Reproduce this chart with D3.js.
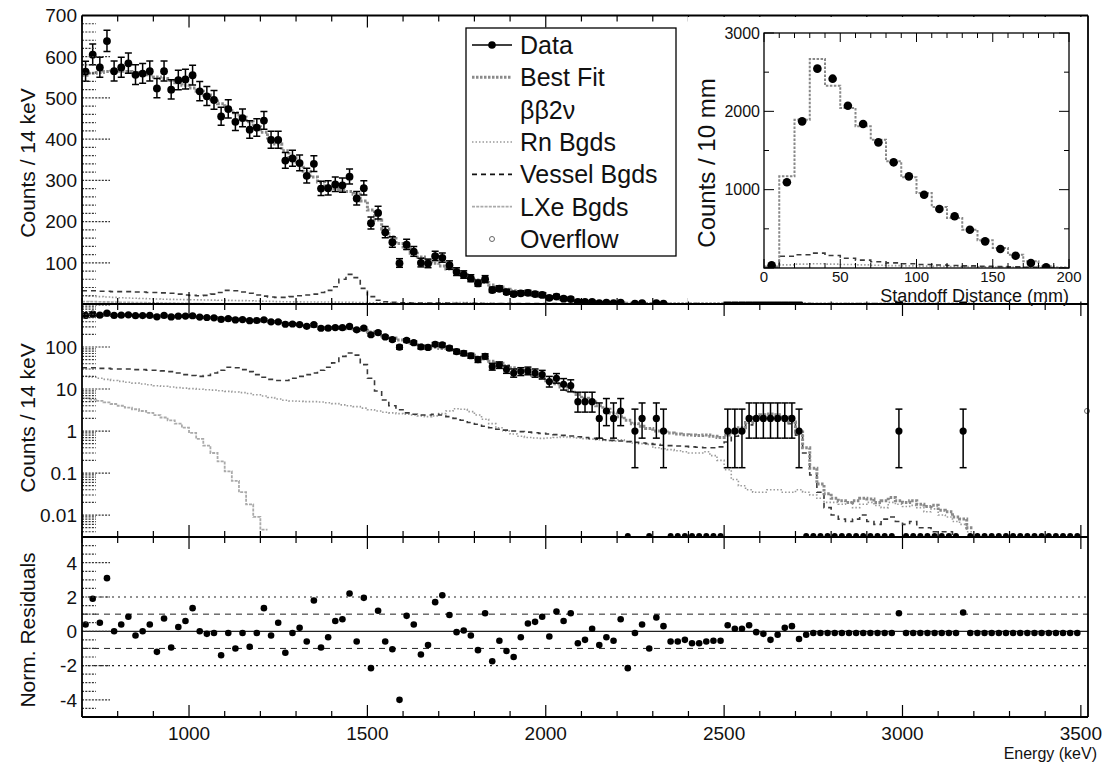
<!DOCTYPE html>
<html>
<head>
<meta charset="utf-8">
<script src="https://d3js.org/d3.v7.min.js"></script>
<style>
  html,body{margin:0;padding:0;background:#fff;}
  text{font-family:"Liberation Sans",Arial,Helvetica,sans-serif;fill:#111;}
</style>
</head>
<body>
<svg id="chart" width="1102" height="763"></svg>
<script>
// ---------------- data ----------------
const binStart = 700, binWidth = 20;          // energy bins (keV)
const fitCounts = [
 555,560,562,564,565,565,564,562,559,556,
 551,547,542,537,531,524,516,507,497,486,
 475,464,453,442,430,417,403,388,372,355,
 338,322,308,296,287,280,276,273,266,250,
 228,204,182,163,147,134,123,114,106,99,
 92,85,78,71,64,58,52,46,41,36,
 32,28,24.5,21.3,18.4,15.8,13.4,11.2,9.2,7.4,
 6.0,4.9,4.0,3.3,2.7,2.2,1.8,1.5,1.3,1.15,
 1.0,0.95,0.9,0.85,0.82,0.8,0.78,0.8,0.75,0.7,
 0.8,0.95,1.2,1.6,2.1,2.45,2.55,2.45,2.15,1.65,
 0.95,0.4,0.13,0.055,0.032,0.025,0.022,0.02,0.022,0.025,
 0.024,0.02,0.022,0.026,0.022,0.02,0.022,0.018,0.016,0.017,
 0.013,0.012,0.009,0.008,0.005
];
const dataCounts = [
 564,605,574,638,565,574,584,556,559,565,
 523,565,520,543,545,555,516,504,495,455,
 473,442,451,423,428,445,398,398,348,353,
 342,311,340,280,281,290,288,309,256,281,
 196,221,174,150,99,144,127,100,98,116,
 112,94,78,71,62,50,60,34,37,29,
 24,26,27,24,22,15,18,13,12,5,
 5,5,2,3,2,3,0,1,2,0,
 2,1,0,0,0,0,0,0,0,0,
 1,1,1,2,2,2,2,2,2,2,
 1,0,0,0,0,0,0,0,0,0,
 0,0,0,0,1,0,0,0,0,0,
 0,0,0,1,0,0,0,0,0,0,
 0,0,0,0,0,0,0,0,0,0
];
const residuals = [
 0.4,1.9,0.5,3.1,0.0,0.4,0.85,-0.25,0.0,0.4,
 -1.2,0.75,-0.95,0.25,0.6,1.35,0.0,-0.15,-0.1,-1.4,
 -0.1,-1.0,-0.1,-0.9,-0.1,1.35,-0.25,0.5,-1.25,-0.1,
 0.2,-0.6,1.8,-0.95,-0.35,0.6,0.7,2.2,-0.6,1.95,
 -2.15,1.2,-0.6,-1.05,-4.0,0.9,0.4,-1.35,-0.8,1.7,
 2.1,0.95,-0.05,0.05,-0.25,-1.1,1.05,-1.75,-0.55,-1.15,
 -1.5,-0.35,0.45,0.55,0.85,-0.3,1.15,0.6,1.05,-0.7,
 -0.5,0.15,-0.8,-0.35,-0.55,0.7,-2.15,-0.1,0.4,-1.0,
 0.8,0.3,-0.6,-0.6,-0.5,-0.7,-0.7,-0.6,-0.55,-0.55,
 0.35,0.15,0.15,0.35,-0.05,-0.15,-0.5,-0.2,0.2,0.3,
 -0.45,-0.2,-0.1,-0.1,-0.1,-0.1,-0.1,-0.1,-0.1,-0.1,
 -0.1,-0.1,-0.1,-0.1,1.05,-0.1,-0.1,-0.1,-0.1,-0.1,
 -0.1,-0.1,-0.1,1.1,-0.1,-0.1,-0.1,-0.1,-0.1,-0.1,
 -0.1,-0.1,-0.1,-0.1,-0.1,-0.1,-0.1,-0.1,-0.1,-0.1
];
const vesselBg = [
 32,32,31,31,30,30,30,29,29,28,
 28,27,26,24,22,21,20,21,24,28,
 33,32,29,26,22,19,17,16,16,18,
 20,22,24,28,33,42,60,72,64,38,
 18,9,5.5,4,3.2,2.7,2.5,2.4,2.4,2.5,
 2.4,2.2,2.0,1.8,1.6,1.45,1.3,1.2,1.1,1.05,
 1.0,0.97,0.94,0.91,0.88,0.85,0.82,0.79,0.76,0.73,
 0.7,0.67,0.64,0.62,0.6,0.58,0.56,0.54,0.52,0.5,
 0.48,0.46,0.45,0.44,0.43,0.42,0.41,0.4,0.4,0.42,
 0.55,0.75,1.0,1.4,1.9,2.3,2.4,2.3,2.0,1.5,
 0.8,0.3,0.09,0.035,0.015,0.01,0.008,0.007,0.008,0.01,
 0.007,0.006,0.008,0.009,0.007,0.006,0.007,0.005,0.005,0.004,
 0.004,0.004,0.003
];
const rnBg = [
 20,19,18,17,16,15.2,14.5,13.8,13.2,12.6,
 12,11.6,11.2,10.8,10.5,10.2,9.9,9.6,9.4,9.1,
 8.8,8.5,8.2,7.8,7.3,6.8,6.3,5.8,5.4,5.2,
 5.1,5.0,5.0,4.9,4.7,4.5,4.2,4.0,3.8,3.5,
 3.2,3.0,2.8,2.7,2.6,2.5,2.4,2.3,2.2,2.3,
 2.6,3.0,3.4,3.3,2.9,2.4,1.9,1.5,1.2,1.0,
 0.85,0.75,0.7,0.68,0.67,0.68,0.7,0.72,0.7,0.68,
 0.66,0.64,0.62,0.6,0.58,0.62,0.56,0.52,0.5,0.48,
 0.4,0.38,0.36,0.34,0.32,0.3,0.3,0.32,0.26,0.2,
 0.12,0.07,0.05,0.04,0.035,0.035,0.04,0.04,0.035,0.035,
 0.04,0.035,0.03,0.025,0.02,0.02,0.018,0.02,0.015,0.018,
 0.02,0.017,0.015,0.02,0.018,0.016,0.017,0.015,0.012,0.014,
 0.01,0.009,0.007,0.006,0.004
];
const lxeBg = [
 6.0,5.6,5.2,4.8,4.4,4.0,3.6,3.3,3.0,2.7,
 2.4,2.1,1.8,1.5,1.2,0.9,0.65,0.45,0.3,0.19,
 0.11,0.065,0.035,0.018,0.009,0.0045
];
const overflowEnergy = 3520, overflowCounts = 3;

// standoff-distance inset (10 mm bins)
const standoffBinWidth = 10;
const standoffFit    = [20,1170,1893,2668,2327,2042,1808,1638,1362,1157,957,779,638,489,353,255,170,85,21,5];
const standoffData   = [34,1094,1872,2545,2417,2072,1838,1604,1349,1170,936,753,660,489,340,243,157,64,8];
const standoffVessel = [10,150,170,190,160,125,100,80,65,55,45,38,32,27,22,18,14,10,6,3];
const standoffOther  = [8,40,50,55,50,45,40,35,30,27,24,21,19,17,15,13,11,9,6,3];

// ticks / labels
const linTickLabels = [100,200,300,400,500,600,700];
const logTickLabels = [0.01,0.1,1,10,100];
const resTickLabels = [-4,-2,0,2,4];
const energyTickLabels = [1000,1500,2000,2500,3000,3500];
const standoffXTicks = [0,50,100,150,200];
const standoffYTicks = [1000,2000,3000];
const legendLabels = ["Data","Best Fit","ββ2ν","Rn Bgds","Vessel Bgds","LXe Bgds","Overflow"];

// ---------------- layout ----------------
const svg = d3.select("#chart");
const L = 82, R = 1088;
const TOP0 = 15.5, TOP1 = 304, MID1 = 537, RES1 = 717;
const x = d3.scaleLinear().domain([700, 3520]).range([L, R]);
const yLin = d3.scaleLinear().domain([0, 700]).range([TOP1, TOP0]);
const yLog = d3.scaleLog().domain([0.003, 1057]).range([MID1, TOP1]);
const yRes = d3.scaleLinear().domain([-5, 5.5]).range([RES1, MID1]);
const edges = d3.range(141).map(i => binStart + i * binWidth);
const centers = dataCounts.map((d, i) => binStart + (i + 0.5) * binWidth);

const defs = svg.append("defs");
function addClip(id, y0, y1) {
  defs.append("clipPath").attr("id", id).append("rect")
    .attr("x", L).attr("y", y0).attr("width", R - L).attr("height", y1 - y0);
}
addClip("cTop", TOP0, TOP1); addClip("cMid", TOP1, MID1); addClip("cRes", MID1, RES1);

const styles = {
  fit:    {stroke: "#8a8a8a", width: 3,   dash: "2.5,1.5"},
  vessel: {stroke: "#3a3a3a", width: 1.6, dash: "5,4"},
  rn:     {stroke: "#9a9a9a", width: 1.6, dash: "1.5,2"},
  lxe:    {stroke: "#aaaaaa", width: 1.8, dash: "3,1.2"}
};
function stepPts(vals, edgeArr) {
  const p = [];
  vals.forEach((v, i) => { p.push([edgeArr[i], v]); p.push([edgeArr[i + 1], v]); });
  return p;
}
function drawStep(g, vals, xs, ys, st, minV, edgeArr) {
  const line = d3.line()
    .defined(d => minV === undefined || d[1] >= minV)
    .x(d => xs(d[0])).y(d => ys(d[1]));
  g.append("path").attr("d", line(stepPts(vals, edgeArr || edges)))
    .attr("fill", "none").attr("stroke", st.stroke)
    .attr("stroke-width", st.width).attr("stroke-dasharray", st.dash);
}
function errLo(n) { return n - Math.sqrt(n - 0.25); }
function errHi(n) { return n + 1 + Math.sqrt(n + 0.75); }

// ---------------- top (linear) panel ----------------
const gTop = svg.append("g").attr("clip-path", "url(#cTop)");
drawStep(gTop, lxeBg, x, yLin, styles.lxe);
drawStep(gTop, rnBg, x, yLin, styles.rn);
drawStep(gTop, vesselBg, x, yLin, styles.vessel);
drawStep(gTop, fitCounts, x, yLin, styles.fit);
dataCounts.forEach((n, i) => {
  if (n <= 0) return;
  const cx = x(centers[i]);
  const y1 = yLin(errLo(n)), y2 = yLin(errHi(n));
  gTop.append("line").attr("x1", cx).attr("x2", cx).attr("y1", y1).attr("y2", y2).attr("stroke", "#000").attr("stroke-width", 1.5);
  [y1, y2].forEach(yy => gTop.append("line").attr("x1", cx - 3.5).attr("x2", cx + 3.5).attr("y1", yy).attr("y2", yy).attr("stroke", "#000").attr("stroke-width", 1.5));
  gTop.append("circle").attr("cx", cx).attr("cy", yLin(n)).attr("r", 3.9).attr("fill", "#000");
});

// ---------------- middle (log) panel ----------------
const gMid = svg.append("g").attr("clip-path", "url(#cMid)");
const minLog = yLog.domain()[0];
drawStep(gMid, lxeBg, x, yLog, styles.lxe, minLog);
drawStep(gMid, rnBg, x, yLog, styles.rn, minLog);
drawStep(gMid, vesselBg, x, yLog, styles.vessel, minLog);
drawStep(gMid, fitCounts, x, yLog, styles.fit, minLog);
dataCounts.forEach((n, i) => {
  const cx = x(centers[i]);
  if (n <= 0) {
    gMid.append("circle").attr("cx", cx).attr("cy", MID1 - 1).attr("r", 3).attr("fill", "#000");
    return;
  }
  const y1 = yLog(errLo(n)), y2 = yLog(errHi(n));
  gMid.append("line").attr("x1", cx).attr("x2", cx).attr("y1", y1).attr("y2", y2).attr("stroke", "#000").attr("stroke-width", 1.5);
  [y1, y2].forEach(yy => gMid.append("line").attr("x1", cx - 3.5).attr("x2", cx + 3.5).attr("y1", yy).attr("y2", yy).attr("stroke", "#000").attr("stroke-width", 1.5));
  gMid.append("circle").attr("cx", cx).attr("cy", yLog(n)).attr("r", 3.6).attr("fill", "#000");
});
svg.append("circle").attr("cx", x(overflowEnergy) - 1).attr("cy", yLog(overflowCounts)).attr("r", 2.5)
  .attr("fill", "#fff").attr("stroke", "#666").attr("stroke-width", 1);

// ---------------- residual panel ----------------
const gRes = svg.append("g").attr("clip-path", "url(#cRes)");
[[0, "none", 1.3], [1, "6,5", 1], [-1, "6,5", 1], [2, "2,4", 1.2], [-2, "2,4", 1.2]].forEach(([v, dash, w]) => {
  gRes.append("line").attr("x1", L).attr("x2", R).attr("y1", yRes(v)).attr("y2", yRes(v))
    .attr("stroke", "#222").attr("stroke-width", w).attr("stroke-dasharray", dash);
});
residuals.forEach((r, i) => {
  gRes.append("circle").attr("cx", x(centers[i])).attr("cy", yRes(r)).attr("r", 3.3).attr("fill", "#000");
});

// ---------------- frames & ticks ----------------
const axG = svg.append("g");
function hline(y, x1, x2, w) { axG.append("line").attr("x1", x1).attr("x2", x2).attr("y1", y).attr("y2", y).attr("stroke", "#000").attr("stroke-width", w); }
function vline(xx, y1, y2, w) { axG.append("line").attr("x1", xx).attr("x2", xx).attr("y1", y1).attr("y2", y2).attr("stroke", "#000").attr("stroke-width", w); }
[[TOP0, TOP1], [TOP1, MID1], [MID1, RES1]].forEach(([y0, y1]) => {
  d3.range(700, 3501, 100).forEach(v => {
    const len = v % 500 === 0 ? 12 : 6;
    vline(x(v), y1, y1 - len, 1.2);
    vline(x(v), y0, y0 + len, 1.2);
  });
});
function yTick(y, len) {
  axG.append("line").attr("x1", L).attr("x2", L + len).attr("y1", y).attr("y2", y)
    .attr("stroke", "#333").attr("stroke-width", 1.2).attr("stroke-dasharray", "2,1.3");
}
d3.range(20, 701, 20).forEach(v => yTick(yLin(v), v % 100 === 0 ? 28 : 14));
[0.001, 0.01, 0.1, 1, 10, 100, 1000].forEach(dec => {
  for (let k = 1; k <= 9; k++) {
    const v = dec * k;
    if (v < yLog.domain()[0] || v > yLog.domain()[1]) continue;
    yTick(yLog(v), k === 1 ? 28 : 14);
  }
});
d3.range(-4.5, 5.01, 0.5).forEach(v => yTick(yRes(v), Math.abs(v % 2) < 1e-9 ? 28 : 14));

hline(TOP0, L, R, 1.8);
hline(TOP1, L, R, 2);
hline(MID1, L, R, 2);
hline(RES1, L, R, 1.8);
vline(L, TOP0, RES1, 1.8);
vline(R, TOP0, RES1, 1.8);

const tl = svg.append("g").attr("font-size", 19);
linTickLabels.forEach(v => tl.append("text").attr("x", L - 5).attr("y", yLin(v)).attr("dy", "0.36em").attr("text-anchor", "end").text(v));
logTickLabels.forEach(v => tl.append("text").attr("x", L - 5).attr("y", yLog(v)).attr("dy", "0.36em").attr("text-anchor", "end").text(v));
resTickLabels.forEach(v => tl.append("text").attr("x", L - 5).attr("y", yRes(v)).attr("dy", "0.36em").attr("text-anchor", "end").text(v));
energyTickLabels.forEach(v => tl.append("text").attr("x", x(v)).attr("y", 740).attr("text-anchor", "middle").text(v));

function vTitle(txt, cx, cy, size) {
  svg.append("text").attr("transform", `translate(${cx},${cy}) rotate(-90)`).attr("text-anchor", "middle")
    .attr("dy", "0.35em").attr("font-size", size).text(txt);
}
vTitle("Counts / 14 keV", 28, 163, 21);
vTitle("Counts / 14 keV", 28, 418, 21);
vTitle("Norm. Residuals", 28, 630, 21);
svg.append("text").attr("x", 1097).attr("y", 759).attr("text-anchor", "end").attr("font-size", 16).text("Energy (keV)");

// ---------------- legend ----------------
const lg = svg.append("g");
lg.append("rect").attr("x", 466).attr("y", 28).attr("width", 210).attr("height", 228)
  .attr("fill", "#fff").attr("stroke", "#000").attr("stroke-width", 1.3);
const rowY = d3.scalePoint().domain(legendLabels).range([45, 239]);
legendLabels.forEach((lab, i) => {
  const yy = rowY(lab);
  lg.append("text").attr("x", 520).attr("y", yy).attr("dy", "0.36em").attr("font-size", 25).text(lab);
  const sample = (st) => lg.append("line").attr("x1", 472).attr("x2", 512).attr("y1", yy).attr("y2", yy)
      .attr("stroke", st.stroke).attr("stroke-width", st.width).attr("stroke-dasharray", st.dash);
  if (i === 0) {
    sample({stroke: "#000", width: 1.6, dash: "none"});
    lg.append("circle").attr("cx", 492).attr("cy", yy).attr("r", 3.8).attr("fill", "#000");
  } else if (i === 1) sample(styles.fit);
  else if (i === 3) sample(styles.rn);
  else if (i === 4) sample({stroke: "#111", width: 1.6, dash: "5,4"});
  else if (i === 5) sample(styles.lxe);
  else if (i === 6) lg.append("circle").attr("cx", 492).attr("cy", yy).attr("r", 2.5).attr("fill", "#fff").attr("stroke", "#666");
});

// ---------------- inset (standoff distance) ----------------
const ins = svg.append("g");
ins.append("rect").attr("x", 688).attr("y", TOP0 + 1.5).attr("width", R - 688 - 1).attr("height", TOP1 - TOP0 - 4).attr("fill", "#fff");
const IL = 764, IR = 1069, IT = 33, IB = 268;
const sx = d3.scaleLinear().domain([0, 200]).range([IL, IR]);
const sy = d3.scaleLinear().domain([0, 3000]).range([IB, IT]);
const sEdges = d3.range(standoffFit.length + 1).map(i => i * standoffBinWidth);
defs.append("clipPath").attr("id", "cIns").append("rect").attr("x", IL).attr("y", IT).attr("width", IR - IL).attr("height", IB - IT);
const gi = ins.append("g").attr("clip-path", "url(#cIns)");
drawStep(gi, standoffOther, sx, sy, styles.rn, undefined, sEdges);
drawStep(gi, standoffVessel, sx, sy, styles.vessel, undefined, sEdges);
drawStep(gi, standoffFit, sx, sy, {stroke: "#888", width: 2, dash: "2.5,1.5"}, undefined, sEdges);
standoffData.forEach((v, i) => {
  gi.append("circle").attr("cx", sx((i + 0.5) * standoffBinWidth)).attr("cy", sy(v)).attr("r", 4.3).attr("fill", "#000");
});
ins.append("rect").attr("x", IL).attr("y", IT).attr("width", IR - IL).attr("height", IB - IT)
  .attr("fill", "none").attr("stroke", "#000").attr("stroke-width", 1.3);
d3.range(0, 201, 10).forEach(v => {
  const len = v % 50 === 0 ? 9 : 5;
  ins.append("line").attr("x1", sx(v)).attr("x2", sx(v)).attr("y1", IB).attr("y2", IB - len).attr("stroke", "#000");
  ins.append("line").attr("x1", sx(v)).attr("x2", sx(v)).attr("y1", IT).attr("y2", IT + len).attr("stroke", "#000");
});
d3.range(0, 3001, 500).forEach(v => {
  const len = v % 1000 === 0 ? 10 : 5;
  ins.append("line").attr("x1", IL).attr("x2", IL + len).attr("y1", sy(v)).attr("y2", sy(v)).attr("stroke", "#000");
  ins.append("line").attr("x1", IR).attr("x2", IR - len).attr("y1", sy(v)).attr("y2", sy(v)).attr("stroke", "#000");
});
standoffYTicks.forEach(v => ins.append("text").attr("x", IL - 4).attr("y", sy(v)).attr("dy", "0.36em")
  .attr("text-anchor", "end").attr("font-size", 16).text(v));
standoffXTicks.forEach(v => ins.append("text").attr("x", sx(v)).attr("y", 281.5).attr("text-anchor", "middle")
  .attr("font-size", 15).text(v));
ins.append("text").attr("x", IR).attr("y", 301.5).attr("text-anchor", "end").attr("font-size", 18).text("Standoff Distance (mm)");
ins.append("text").attr("transform", `translate(707,163) rotate(-90)`).attr("text-anchor", "middle")
  .attr("dy", "0.35em").attr("font-size", 24).text("Counts / 10 mm");
</script>
</body>
</html>
